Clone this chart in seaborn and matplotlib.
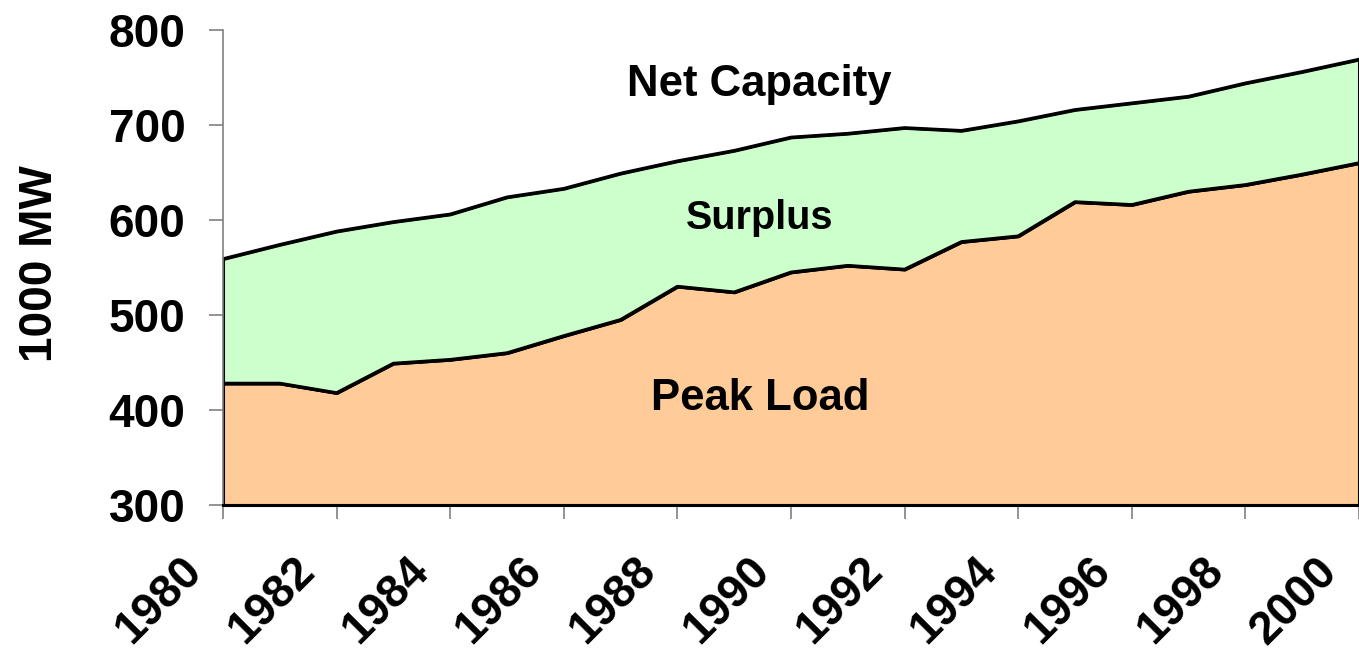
import matplotlib
matplotlib.use("Agg")
import matplotlib.pyplot as plt
import matplotlib.transforms as mtransforms
import numpy as np
import pandas as pd
import seaborn as sns

# values (1000 MW)
years = list(range(1980, 2001))
peak_load = [428, 428, 418, 449, 453, 460, 478, 495, 530, 524, 545, 552, 548,
             577, 583, 619, 616, 630, 637, 648, 660]
net_capacity = [559, 574, 588, 598, 606, 624, 633, 649, 662, 673, 687, 691, 697,
                694, 704, 716, 723, 730, 744, 756, 769]

area_labels = ["Net Capacity", "Surplus", "Peak Load"]
label_pos = [(1989.45, 743), (1989.45, 602), (1989.45, 412)]
label_size = [31.5, 28.5, 31.5]

df = pd.DataFrame({"year": years, "Peak Load": peak_load, "Net Capacity": net_capacity})

sns.set_theme(style="white")
plt.rcParams["font.family"] = ["Liberation Sans", "DejaVu Sans"]
plt.rcParams["font.weight"] = "bold"
plt.rcParams["text.color"] = "black"

fig = plt.figure(figsize=(13.59, 6.54), dpi=100)
ax = fig.add_axes([223 / 1359, 1 - 505 / 654, 1 - 223 / 1359, 475 / 654])

base = 300
ax.fill_between(df["year"], base, df["Peak Load"], facecolor="#FFCC99",
                edgecolor="black", linewidth=2.2, zorder=1)
ax.fill_between(df["year"], df["Peak Load"], df["Net Capacity"], facecolor="#CCFFCC",
                edgecolor="black", linewidth=2.2, zorder=1)
sns.lineplot(data=df, x="year", y="Peak Load", color="black", linewidth=2.4, ax=ax, zorder=2)
sns.lineplot(data=df, x="year", y="Net Capacity", color="black", linewidth=2.4, ax=ax, zorder=2)

for txt, (x, y), s in zip(area_labels, label_pos, label_size):
    ax.text(x, y, txt, ha="center", va="center", fontsize=s, fontweight="bold", color="black")

ax.set_xlim(1980, 2000)
ax.set_ylim(300, 800)
ax.set_xticks(range(1980, 2001, 2))
ax.set_yticks(range(300, 801, 100))

for side in ["top", "right"]:
    ax.spines[side].set_visible(False)
ax.spines["left"].set_color("#808080")
ax.spines["left"].set_linewidth(1.2)
ax.spines["bottom"].set_color("black")
ax.spines["bottom"].set_linewidth(2.2)

ax.tick_params(axis="y", direction="out", length=10, width=1.2, color="#808080",
               labelsize=33, labelcolor="black", pad=17, left=True)
ax.tick_params(axis="x", direction="out", length=10, width=1.2, color="#808080",
               labelsize=33, labelcolor="black", pad=39, bottom=True)

ax.set_xlabel("")
ax.set_ylabel("1000 MW", fontsize=33, fontweight="bold", color="black")
ax.yaxis.set_label_coords(-0.142, 0.509)

offset = mtransforms.ScaledTranslation(-20 / 100, 0, fig.dpi_scale_trans)
for lab in ax.get_xticklabels():
    lab.set_rotation(45)
    lab.set_ha("right")
    lab.set_va("baseline")
    lab.set_rotation_mode("anchor")
    lab.set_fontweight("bold")
    lab.set_transform(lab.get_transform() + offset)
for lab in ax.get_yticklabels():
    lab.set_fontweight("bold")

ax.grid(False)
fig.savefig("out.png", dpi=100)
